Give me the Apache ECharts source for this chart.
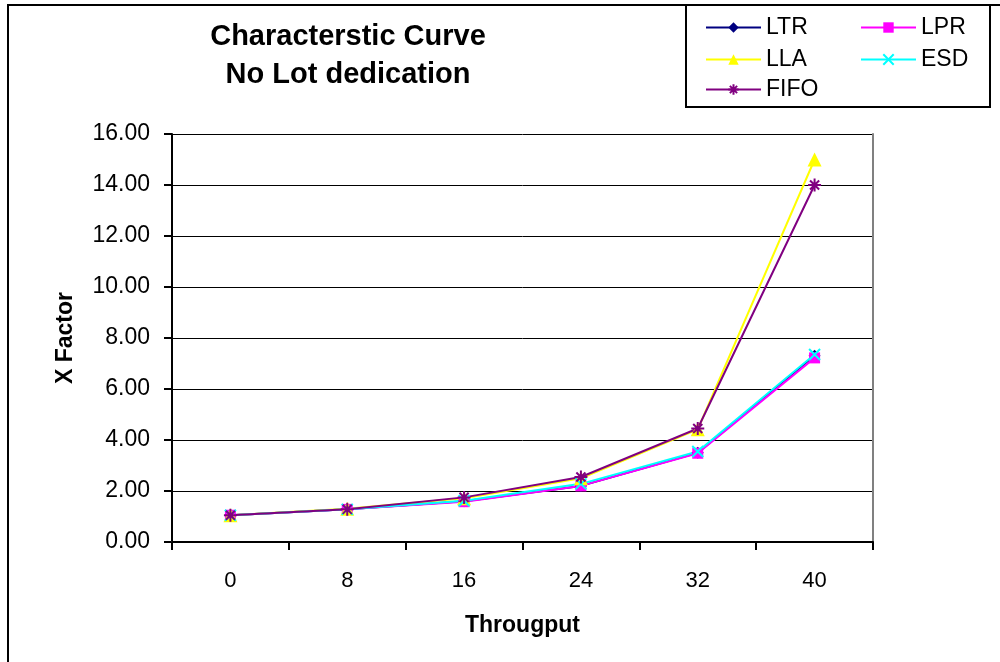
<!DOCTYPE html>
<html>
<head>
<meta charset="utf-8">
<script src="https://cdn.jsdelivr.net/npm/echarts@6/dist/echarts.min.js"></script>
<style>
  html, body { margin: 0; padding: 0; background: #fff; }
  #chart { width: 1000px; height: 662px; }
</style>
</head>
<body>
<div id="chart"></div>
<script>
// Throughput levels on the category axis
const throughput = ['0', '8', '16', '24', '32', '40'];

// X factor per dispatching rule
const ltr  = [1.05, 1.28, 1.60, 2.20, 3.50, 7.30];
const lpr  = [1.05, 1.28, 1.58, 2.20, 3.48, 7.22];
const lla  = [1.05, 1.30, 1.72, 2.50, 4.42, 15.00];
const esd  = [1.05, 1.28, 1.62, 2.28, 3.55, 7.35];
const fifo = [1.05, 1.28, 1.75, 2.55, 4.45, 14.00];

const yTicks = { min: 0, max: 16, interval: 2 };

const FONT = 'Liberation Sans, Arial, sans-serif';
const xMark = 'path://M0,0L10,10M10,0L0,10';
const starMark = 'path://M5,0L5,10M0,5L10,5M1.5,1.5L8.5,8.5M8.5,1.5L1.5,8.5';

function lineSeries(name, data, color, symbol, size, stroked) {
  return {
    name: name,
    type: 'line',
    data: data,
    symbol: symbol,
    symbolSize: size,
    showSymbol: true,
    lineStyle: { color: color, width: 2 },
    itemStyle: stroked
      ? { color: color, borderColor: color, borderWidth: 2 }
      : { color: color, borderWidth: 0 },
    emphasis: { disabled: true },
    animation: false
  };
}

function legendAt(name, left, top) {
  return {
    data: [name],
    left: left,
    top: top,
    itemWidth: 55,
    itemHeight: 13,
    textStyle: { fontFamily: FONT, fontSize: 23, color: '#000' },
    selectedMode: false
  };
}

// Thin frame axes drawn in grey on the top and right of the plot
const frameAxis = {
  show: true,
  axisLine: { show: true, lineStyle: { color: '#808080', width: 2 } },
  axisTick: { show: false },
  axisLabel: { show: false },
  splitLine: { show: false }
};

const chart = echarts.init(document.getElementById('chart'), null, { renderer: 'canvas' });

chart.setOption({
  backgroundColor: '#fff',
  title: {
    text: 'Characterstic Curve\nNo Lot dedication',
    left: 343,
    top: 13,
    textAlign: 'center',
    textStyle: { fontFamily: FONT, fontSize: 29, fontWeight: 'bold', color: '#000', lineHeight: 38 }
  },
  legend: [
    legendAt('LTR', 700, 11),
    legendAt('LPR', 855, 11),
    legendAt('LLA', 700, 43),
    legendAt('ESD', 855, 43),
    legendAt('FIFO', 700, 73)
  ],
  graphic: [
    { type: 'rect', shape: { x: 8, y: 5, width: 1010, height: 680 }, style: { fill: 'none', stroke: '#000', lineWidth: 2 }, z: 100 },
    { type: 'rect', shape: { x: 686, y: 5, width: 304, height: 102 }, style: { fill: 'none', stroke: '#000', lineWidth: 2 }, z: 100 }
  ],
  grid: {
    left: 172, right: 127, top: 134, bottom: 120,
    show: false
  },
  xAxis: [{
    type: 'category',
    data: throughput,
    boundaryGap: true,
    name: 'Througput',
    nameLocation: 'middle',
    nameGap: 72,
    nameTextStyle: { fontFamily: FONT, fontSize: 23, fontWeight: 'bold', color: '#000' },
    axisLine: { lineStyle: { color: '#000', width: 2 } },
    axisTick: { show: true, alignWithLabel: false, length: 8, lineStyle: { color: '#000', width: 2 } },
    axisLabel: { fontFamily: FONT, fontSize: 22, color: '#000', margin: 28 },
    splitLine: { show: false },
    z: 3
  }, Object.assign({ type: 'category', data: throughput, position: 'top', z: 2 }, frameAxis)],
  yAxis: [{
    type: 'value',
    min: yTicks.min,
    max: yTicks.max,
    interval: yTicks.interval,
    name: 'X Factor',
    nameLocation: 'middle',
    nameGap: 95,
    nameRotate: 90,
    nameTextStyle: { fontFamily: FONT, fontSize: 23, fontWeight: 'bold', color: '#000' },
    axisLine: { show: true, lineStyle: { color: '#000', width: 2 } },
    axisTick: { show: true, inside: false, length: 8, lineStyle: { color: '#000', width: 2 } },
    axisLabel: { fontFamily: FONT, fontSize: 23, color: '#000', margin: 22, formatter: v => v.toFixed(2) },
    splitLine: { show: true, lineStyle: { color: '#000', width: 1 } },
    z: 1
  }, Object.assign({ type: 'value', min: yTicks.min, max: yTicks.max, interval: yTicks.interval, position: 'right', z: 2 }, frameAxis)],
  series: [
    lineSeries('LTR', ltr, '#000080', 'diamond', 12, false),
    lineSeries('LPR', lpr, '#FF00FF', 'rect', 11, false),
    lineSeries('LLA', lla, '#FFFF00', 'triangle', 14, false),
    lineSeries('ESD', esd, '#00FFFF', xMark, 11, true),
    lineSeries('FIFO', fifo, '#800080', starMark, 13, true)
  ]
});
</script>
</body>
</html>
